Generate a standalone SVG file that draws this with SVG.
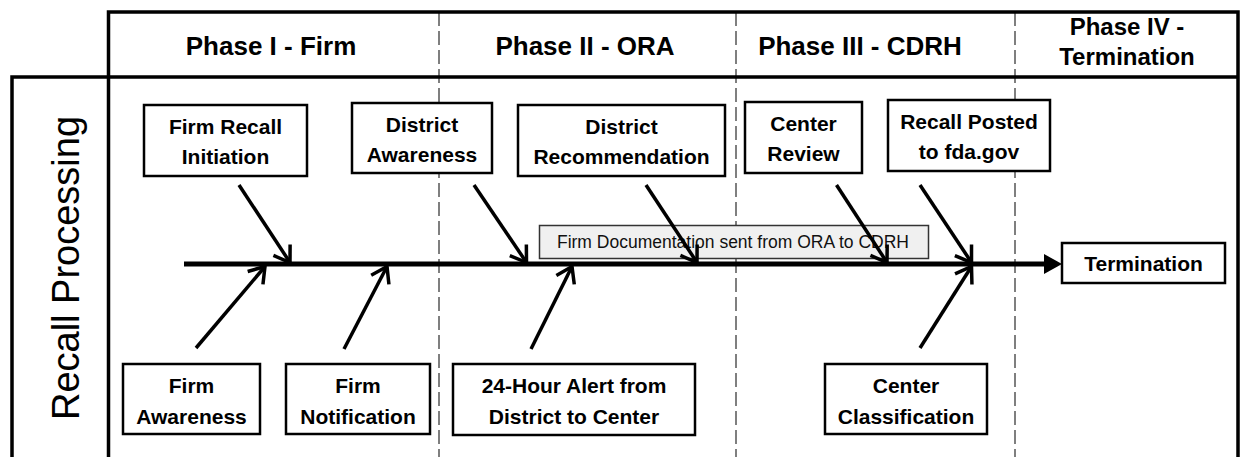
<svg xmlns="http://www.w3.org/2000/svg" width="1243" height="457" viewBox="0 0 1243 457">
<defs>
<style>
.frame{fill:none;stroke:#000;stroke-width:3.5}
.dash{fill:none;stroke:#555;stroke-width:1.5;stroke-dasharray:14 5}
.box{fill:#fff;stroke:#000;stroke-width:2.5}
.lbl{fill:#f0f0f0;stroke:#333;stroke-width:1.5}
.hdr{font-family:"Liberation Sans",Arial,sans-serif;font-weight:bold;font-size:26px;fill:#000;text-anchor:middle}
.hdr2{font-family:"Liberation Sans",Arial,sans-serif;font-weight:bold;font-size:24px;fill:#000;text-anchor:middle}
.nt{font-family:"Liberation Sans",Arial,sans-serif;font-weight:bold;font-size:21px;fill:#000;text-anchor:middle}
.lt{font-family:"Liberation Sans",Arial,sans-serif;font-size:17.5px;fill:#111;text-anchor:middle}
.side{font-family:"Liberation Sans",Arial,sans-serif;font-size:38px;fill:#000;text-anchor:middle}
.arr{fill:none;stroke:#000;stroke-width:3.5;marker-end:url(#open)}
.spine{fill:none;stroke:#000;stroke-width:5}
</style>
<marker id="open" markerUnits="userSpaceOnUse" viewBox="-20 -14 24 28" markerWidth="24" markerHeight="28" refX="0" refY="0" orient="auto">
<path d="M-15,-10 L0,0 L-15,10" fill="none" stroke="#000" stroke-width="3.5"/>
</marker>
</defs>

<g id="frame">
<line class="dash" x1="439" y1="12" x2="439" y2="457"/>
<line class="dash" x1="736" y1="12" x2="736" y2="457"/>
<line class="dash" x1="1015" y1="12" x2="1015" y2="457"/>
<polyline class="frame" points="108.5,457 108.5,12 1238,12 1238,457"/>
<polyline class="frame" points="12,457 12,77 1238,77"/>
</g>

<g id="headers">
<text class="hdr" x="271" y="55">Phase I - Firm</text>
<text class="hdr" x="585" y="55">Phase II - ORA</text>
<text class="hdr" x="860" y="55">Phase III - CDRH</text>
<text class="hdr2" x="1127" y="35">Phase IV -</text>
<text class="hdr2" x="1127" y="65">Termination</text>
</g>

<g id="side-label">
<text class="side" transform="translate(79,268) rotate(-90)">Recall Processing</text>
</g>

<g id="label-doc">
<rect class="lbl" x="539.5" y="225.5" width="389" height="33"/>
<text class="lt" x="733" y="247.5">Firm Documentation sent from ORA to CDRH</text>
</g>

<g id="connectors">
<line class="spine" x1="184" y1="264" x2="1046" y2="264"/>
<polygon points="1044,254 1062,264 1044,274" fill="#000"/>
<line class="arr" x1="239" y1="185" x2="290" y2="262.5"/>
<line class="arr" x1="474" y1="185" x2="526.5" y2="262.5"/>
<line class="arr" x1="646" y1="185" x2="697" y2="262.5"/>
<line class="arr" x1="836.5" y1="185" x2="887" y2="262.5"/>
<line class="arr" x1="920" y1="185" x2="971.5" y2="262.5"/>
<line class="arr" x1="196" y1="348" x2="265" y2="266.5"/>
<line class="arr" x1="344" y1="349" x2="387" y2="266.5"/>
<line class="arr" x1="531" y1="349" x2="572" y2="266.5"/>
<line class="arr" x1="920" y1="348" x2="971.5" y2="266.5"/>
</g>

<g id="n-firm-recall">
<rect class="box" x="144" y="105" width="163" height="71"/>
<text class="nt" x="225.5" y="133.5">Firm Recall</text>
<text class="nt" x="225.5" y="164">Initiation</text>
</g>
<g id="n-district-awareness">
<rect class="box" x="352" y="103" width="140" height="70"/>
<text class="nt" x="422" y="131.5">District</text>
<text class="nt" x="422" y="162">Awareness</text>
</g>
<g id="n-district-recommendation">
<rect class="box" x="518" y="105" width="207" height="71"/>
<text class="nt" x="621.5" y="133.5">District</text>
<text class="nt" x="621.5" y="164">Recommendation</text>
</g>
<g id="n-center-review">
<rect class="box" x="745" y="102" width="117" height="71"/>
<text class="nt" x="803.5" y="130.5">Center</text>
<text class="nt" x="803.5" y="161">Review</text>
</g>
<g id="n-recall-posted">
<rect class="box" x="888" y="100" width="162" height="71"/>
<text class="nt" x="969" y="128.5">Recall Posted</text>
<text class="nt" x="969" y="159">to fda.gov</text>
</g>
<g id="n-termination">
<rect class="box" x="1062" y="243" width="163" height="40"/>
<text class="nt" x="1143.5" y="271">Termination</text>
</g>
<g id="n-firm-awareness">
<rect class="box" x="123" y="364" width="137" height="70"/>
<text class="nt" x="191.5" y="393">Firm</text>
<text class="nt" x="191.5" y="423.5">Awareness</text>
</g>
<g id="n-firm-notification">
<rect class="box" x="286" y="364" width="144" height="70"/>
<text class="nt" x="358" y="393">Firm</text>
<text class="nt" x="358" y="423.5">Notification</text>
</g>
<g id="n-24hour">
<rect class="box" x="453" y="364" width="242" height="71"/>
<text class="nt" x="574" y="393">24-Hour Alert from</text>
<text class="nt" x="574" y="423.5">District to Center</text>
</g>
<g id="n-center-classification">
<rect class="box" x="825" y="364" width="162" height="70"/>
<text class="nt" x="906" y="393">Center</text>
<text class="nt" x="906" y="423.5">Classification</text>
</g>
</svg>
